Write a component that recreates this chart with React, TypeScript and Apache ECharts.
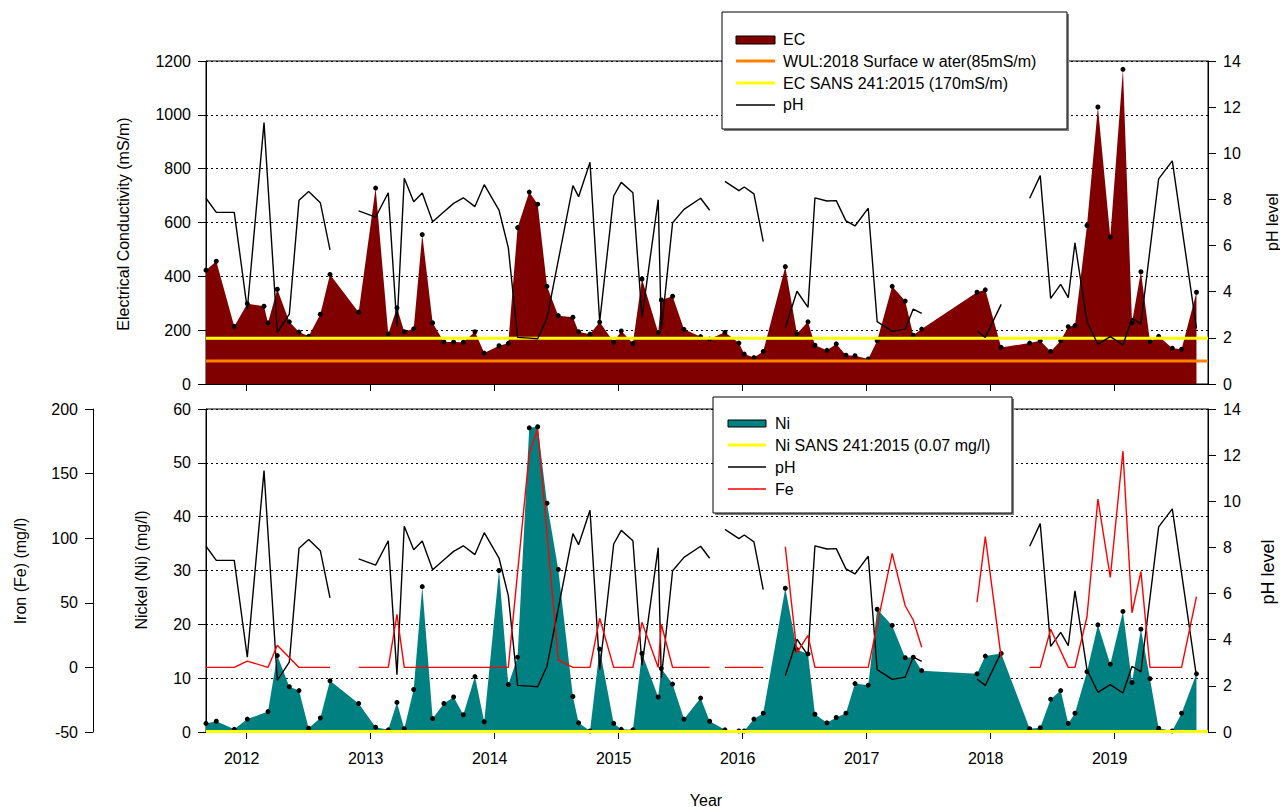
import React, { useEffect, useRef } from "react";
import * as echarts from "echarts";

// ---------- DATA ----------
const sampleDates = [
  2011.672, 2011.755, 2011.9, 2012.005, 2012.14, 2012.172, 2012.247, 2012.344, 2012.422, 2012.5,
  2012.594, 2012.672, 2012.903, 2013.04, 2013.142, 2013.212, 2013.271, 2013.347, 2013.416, 2013.5,
  2013.591, 2013.669, 2013.747, 2013.841, 2013.916, 2014.035, 2014.11, 2014.185, 2014.279, 2014.347,
  2014.422, 2014.513, 2014.631, 2014.677, 2014.769, 2014.847, 2014.96, 2015.021, 2015.115, 2015.188,
  2015.319, 2015.344, 2015.435, 2015.527, 2015.661, 2015.734, 2015.857, 2015.97, 2016.013, 2016.091,
  2016.166, 2016.344, 2016.438, 2016.527, 2016.583, 2016.68, 2016.755, 2016.833, 2016.906, 2017.013,
  2017.085, 2017.206, 2017.311, 2017.376, 2017.444, 2017.89, 2017.957, 2018.085, 2018.315, 2018.4,
  2018.484, 2018.565, 2018.626, 2018.68, 2018.777, 2018.865, 2018.965, 2019.067, 2019.14, 2019.212,
  2019.285, 2019.355, 2019.465, 2019.54, 2019.66,
];

const ecValues = [
  423, 456, 214, 298, 289, 227, 352, 231, 193, 177,
  259, 407, 267, 728, 186, 283, 194, 205, 555, 227,
  156, 156, 155, 194, 115, 142, 151, 581, 713, 668,
  363, 254, 248, 194, 185, 230, 155, 197, 151, 390,
  191, 312, 326, 203, 176, 167, 192, 152, 111, 98,
  121, 436, 187, 231, 144, 125, 149, 107, 105, 93,
  161, 363, 308, 181, 204, 341, 350, 136, 152, 161,
  121, 161, 213, 217, 589, 1029, 546, 1169, 228, 417,
  158, 177, 133, 129, 341,
];

const niValues = [
  1.6, 2.0, 0.5, 2.4, null, 3.8, 14.2, 8.4, 7.7, 0.7,
  2.6, 9.5, 5.3, 0.9, 0.4, 5.5, 0.6, 7.9, 27.0, 2.5,
  5.3, 6.5, 3.2, 10.3, 1.9, 30.0, 8.8, 13.9, 56.5, 56.7,
  42.5, 30.2, 6.6, 1.7, 0.2, 15.4, 1.6, 0.5, 0.4, 14.6,
  6.5, 11.8, 8.9, 2.4, 6.3, 2.0, 0.4, 0.2, 0.2, 2.4,
  3.5, 26.7, 15.3, 14.5, 3.3, 1.7, 2.7, 3.5, 9.0, 8.7,
  22.8, 19.8, 13.8, 13.9, 11.4, 10.8, 14.1, 14.6, 0.6, 0.8,
  6.1, 7.7, 1.6, 3.5, 11.2, 19.9, 12.6, 22.4, 9.2, 19.1,
  9.9, 0.7, 0.2, 3.5, 10.8,
];

// pH (null = gap in the record)
const phDates = [
  2011.672, 2011.755, 2011.9, 2012.005, 2012.14, 2012.247, 2012.344, 2012.422, 2012.5, 2012.594,
  2012.672, 2012.79, 2012.903, 2013.04, 2013.142, 2013.212, 2013.271, 2013.347, 2013.416, 2013.5,
  2013.591, 2013.669, 2013.747, 2013.841, 2013.916, 2014.035, 2014.11, 2014.185, 2014.279, 2014.347,
  2014.422, 2014.631, 2014.677, 2014.769, 2014.847, 2014.96, 2015.021, 2015.115, 2015.188, 2015.319,
  2015.344, 2015.435, 2015.527, 2015.661, 2015.734, 2015.8, 2015.857, 2015.97, 2016.013, 2016.091,
  2016.166, 2016.25, 2016.344, 2016.438, 2016.527, 2016.583, 2016.68, 2016.755, 2016.833, 2016.906,
  2017.013, 2017.085, 2017.206, 2017.311, 2017.376, 2017.444, 2017.65, 2017.89, 2017.957, 2018.085,
  2018.2, 2018.315, 2018.4, 2018.484, 2018.565, 2018.626, 2018.68, 2018.777, 2018.865, 2018.965,
  2019.067, 2019.14, 2019.212, 2019.355, 2019.465, 2019.66,
];
const phValues = [
  8.05, 7.44, 7.44, 3.24, 11.33, 2.24, 3.03, 7.96, 8.34, 7.86,
  5.81, null, 7.5, 7.23, 8.29, 2.48, 8.92, 7.9, 8.28, 7.03,
  7.47, 7.83, 8.07, 7.69, 8.64, 7.54, 5.91, 2.02, 1.99, 1.96,
  2.85, 8.6, 8.12, 9.61, 2.7, 8.15, 8.74, 8.29, 2.89, 7.99,
  2.33, 6.99, 7.57, 8.05, 7.53, null, 8.78, 8.38, 8.54, 8.24,
  6.17, null, 2.44, 4.02, 3.32, 8.07, 7.93, 7.95, 7.07, 6.85,
  7.62, 2.7, 2.28, 2.38, 3.25, 3.06, null, 2.3, 2.02, 3.45,
  null, 8.05, 9.03, 3.71, 4.32, 3.74, 6.12, 2.7, 1.72, 2.05,
  1.69, 2.85, 2.61, 8.89, 9.67, 2.41,
];

// Fe (mg/l), null = gap
const feDates = [
  2011.672, 2011.9, 2012.005, 2012.172, 2012.247, 2012.422, 2012.672, 2012.79, 2012.903, 2013.142,
  2013.212, 2013.271, 2014.11, 2014.279, 2014.347, 2014.513, 2014.631, 2014.769, 2014.847, 2014.96,
  2015.115, 2015.188, 2015.319, 2015.344, 2015.435, 2015.734, 2015.8, 2015.857, 2016.166, 2016.25,
  2016.344, 2016.438, 2016.527, 2016.583, 2017.013, 2017.206, 2017.311, 2017.376, 2017.444, 2017.65,
  2017.89, 2017.957, 2018.085, 2018.2, 2018.315, 2018.4, 2018.484, 2018.626, 2018.68, 2018.777,
  2018.865, 2018.965, 2019.067, 2019.14, 2019.212, 2019.285, 2019.54, 2019.66,
];
const feValues = [
  0, 0, 4.9, 0, 17.2, 0, 0, null, 0, 0,
  41.1, 0, 0, 165.7, 184.3, 5.7, 0, 0, 38, 0,
  0, 34.9, 0, 33.6, 0, 0, null, 0, 0, null,
  93.4, 11.4, 24.8, 0, 0, 88.3, 47.7, 36.7, 15.6, null,
  50.4, 101.2, 7.7, null, 0, 0, 29.5, 0, 0, 39.2,
  130.3, 69.7, 167.5, 42.3, 74.1, 0, 0, 54.7,
];

const yearTicks = [2012, 2013, 2014, 2015, 2016, 2017, 2018, 2019];
const WUL_LIMIT = 85;
const EC_SANS_LIMIT = 170;
const NI_SANS_LIMIT = 0.07;

const X_MIN = 2011.672;
const X_MAX = 2019.753;

const FONT = '"Liberation Sans", Arial, sans-serif';
const C_EC = "#800000";
const C_NI = "#008080";
const C_ORANGE = "#FF8000";
const C_YELLOW = "#FFFF00";
const C_FE = "#FF0000";

const pairs = (xs: number[], ys: (number | null)[]) =>
  xs.map((x, i) => [x, ys[i] === null ? "-" : ys[i]]);

function text(x: number, y: number, t: string, size: number, opts: any = {}) {
  return {
    type: "text",
    x,
    y,
    rotation: opts.rotation || 0,
    z: 100,
    style: {
      text: t,
      fill: "#000",
      font: `${size}px ${FONT}`,
      align: opts.align || "left",
      textAlign: opts.align || "left",
      verticalAlign: "middle",
      textVerticalAlign: "middle",
    },
  };
}

function legendBox(x: number, y: number, w: number, h: number) {
  return [
    { type: "rect", z: 99, shape: { x: x + 2, y: y + 2, width: w, height: h }, style: { fill: "#808080" } },
    { type: "rect", z: 100, shape: { x, y, width: w, height: h }, style: { fill: "#fff", stroke: "#000", lineWidth: 1 } },
  ];
}

function legendLine(x1: number, x2: number, y: number, color: string, w: number) {
  return { type: "line", z: 101, shape: { x1, y1: y, x2, y2: y }, style: { stroke: color, lineWidth: w } };
}

function legendRect(x: number, y: number, w: number, h: number, color: string) {
  return { type: "rect", z: 101, shape: { x, y, width: w, height: h }, style: { fill: color, stroke: "#000", lineWidth: 1 } };
}

export default function App() {
  const ref = useRef<HTMLDivElement>(null);

  useEffect(() => {
    if (!ref.current) return;
    const chart = echarts.init(ref.current, null, { renderer: "svg" });

    const xAxis = (gridIndex: number) => ({
      type: "value",
      gridIndex,
      min: X_MIN,
      max: X_MAX,
      axisLine: { show: true, onZero: false, lineStyle: { color: "#000", width: 1 } },
      axisTick: { show: true, length: 7, customValues: yearTicks, lineStyle: { color: "#000" } },
      axisLabel: {
        show: gridIndex === 1,
        customValues: yearTicks.map((y) => y - 0.04),
        formatter: (v: number) => String(Math.round(v)),
        color: "#000",
        fontSize: 16,
        fontFamily: FONT,
        margin: 18,
      },
      splitLine: { show: false },
    });

    const yAxis = (gridIndex: number, position: string, min: number, max: number, interval: number, split: boolean, offset = 0) => ({
      type: "value",
      gridIndex,
      position,
      offset,
      min,
      max,
      interval,
      axisLine: { show: true, onZero: false, lineStyle: { color: "#000", width: 1 } },
      axisTick: { show: true, length: 8, lineStyle: { color: "#000" } },
      axisLabel: {
        color: "#000",
        fontSize: 16,
        fontFamily: FONT,
        margin: 15,
        formatter: (v: number) => String(v),
      },
      splitLine: { show: split, lineStyle: { color: "#000", width: 1, type: [2, 3] } },
    });

    const option: any = {
      animation: false,
      backgroundColor: "#fff",
      grid: [
        { left: 206, top: 61, width: 1002, height: 323, show: true, borderColor: "#000", borderWidth: 1, backgroundColor: "rgba(0,0,0,0)" },
        { left: 206, top: 409, width: 1002, height: 323, show: true, borderColor: "#000", borderWidth: 1, backgroundColor: "rgba(0,0,0,0)" },
      ],
      xAxis: [xAxis(0), xAxis(1)],
      yAxis: [
        yAxis(0, "left", 0, 1200, 200, true),
        yAxis(0, "right", 0, 14, 2, false),
        yAxis(1, "left", 0, 60, 10, true),
        yAxis(1, "right", 0, 14, 2, false),
        yAxis(1, "left", -50, 200, 50, false, 113),
      ],
      series: [
        {
          name: "EC",
          type: "line",
          xAxisIndex: 0,
          yAxisIndex: 0,
          data: pairs(sampleDates, ecValues),
          symbol: "circle",
          symbolSize: 5,
          showAllSymbol: true,
          itemStyle: { color: "#000" },
          lineStyle: { width: 0, color: C_EC },
          areaStyle: { color: C_EC, opacity: 1 },
          z: 2,
        },
        {
          name: "WUL",
          type: "line",
          xAxisIndex: 0,
          yAxisIndex: 0,
          data: [[X_MIN, WUL_LIMIT], [X_MAX, WUL_LIMIT]],
          symbol: "none",
          lineStyle: { color: C_ORANGE, width: 3 },
          z: 3,
        },
        {
          name: "EC SANS",
          type: "line",
          xAxisIndex: 0,
          yAxisIndex: 0,
          data: [[X_MIN, EC_SANS_LIMIT], [X_MAX, EC_SANS_LIMIT]],
          symbol: "none",
          lineStyle: { color: C_YELLOW, width: 3 },
          z: 3,
        },
        {
          name: "pH",
          type: "line",
          xAxisIndex: 0,
          yAxisIndex: 1,
          data: pairs(phDates, phValues),
          symbol: "none",
          connectNulls: false,
          lineStyle: { color: "#000", width: 1.4 },
          z: 4,
        },
        {
          name: "Ni",
          type: "line",
          xAxisIndex: 1,
          yAxisIndex: 2,
          data: pairs(sampleDates, niValues),
          connectNulls: true,
          symbol: "circle",
          symbolSize: 5,
          showAllSymbol: true,
          itemStyle: { color: "#000" },
          lineStyle: { width: 0, color: C_NI },
          areaStyle: { color: C_NI, opacity: 1 },
          z: 2,
        },
        {
          name: "Ni SANS",
          type: "line",
          xAxisIndex: 1,
          yAxisIndex: 2,
          data: [[X_MIN, NI_SANS_LIMIT], [X_MAX, NI_SANS_LIMIT]],
          symbol: "none",
          lineStyle: { color: C_YELLOW, width: 3 },
          z: 3,
        },
        {
          name: "pH2",
          type: "line",
          xAxisIndex: 1,
          yAxisIndex: 3,
          data: pairs(phDates, phValues),
          symbol: "none",
          connectNulls: false,
          lineStyle: { color: "#000", width: 1.4 },
          z: 4,
        },
        {
          name: "Fe",
          type: "line",
          xAxisIndex: 1,
          yAxisIndex: 4,
          data: pairs(feDates, feValues),
          symbol: "none",
          connectNulls: false,
          lineStyle: { color: C_FE, width: 1.4 },
          z: 4,
        },
      ],
      graphic: [
        // axis names
        text(123, 224, "Electrical Conductivity (mS/m)", 16, { align: "center", rotation: Math.PI / 2 }),
        text(141, 570, "Nickel (Ni) (mg/l)", 16, { align: "center", rotation: Math.PI / 2 }),
        text(20, 571, "Iron (Fe) (mg/l)", 16, { align: "center", rotation: Math.PI / 2 }),
        text(1272, 222, "pH level", 16, { align: "center", rotation: Math.PI / 2 }),
        text(1268, 572, "pH level", 18, { align: "center", rotation: Math.PI / 2 }),
        text(706, 800, "Year", 16, { align: "center" }),
        // top legend
        ...legendBox(722, 12, 345, 117),
        legendRect(736, 36, 39, 8, C_EC),
        text(783, 39, "EC", 16),
        legendLine(736, 775, 61, C_ORANGE, 3),
        text(783, 61, "WUL:2018 Surface w ater(85mS/m)", 16),
        legendLine(736, 775, 83, C_YELLOW, 3),
        text(783, 83, "EC SANS 241:2015 (170mS/m)", 16),
        legendLine(736, 775, 105, "#000", 1.4),
        text(783, 104, "pH", 16),
        // bottom legend
        ...legendBox(713, 397, 299, 116),
        legendRect(728, 420, 38, 7, C_NI),
        text(775, 423, "Ni", 16),
        legendLine(728, 766, 445, C_YELLOW, 3),
        text(775, 445, "Ni SANS 241:2015 (0.07 mg/l)", 16),
        legendLine(728, 766, 467, "#000", 1.4),
        text(775, 467, "pH", 16),
        legendLine(728, 766, 489, C_FE, 1.4),
        text(775, 489, "Fe", 16),
      ],
    };

    chart.setOption(option);
    return () => chart.dispose();
  }, []);

  return (
    <div
      ref={ref}
      style={{ position: "fixed", left: 0, top: 0, width: 1280, height: 807, background: "#fff" }}
    />
  );
}
